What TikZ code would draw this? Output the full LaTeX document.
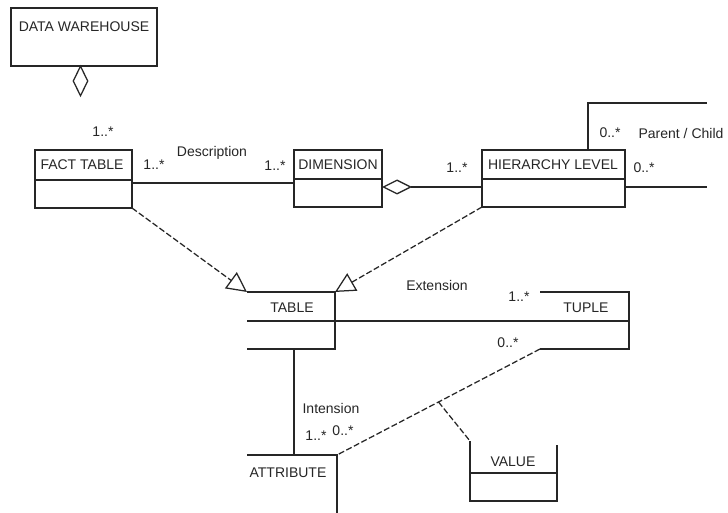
\documentclass[tikz,border=0pt]{standalone}
\usepackage{fontspec}
\setmainfont{Liberation Sans}
\usetikzlibrary{arrows.meta,shapes.geometric,calc}
\definecolor{ink}{HTML}{262626}
\begin{document}
\begin{tikzpicture}[x=1pt,y=-1pt,line width=1.25pt,draw=ink,text=ink,
  box/.style={inner sep=0pt,outer sep=0pt,anchor=north west},
  txt/.style={font=\fontsize{14}{16}\selectfont,inner sep=0pt},
  dashedline/.style={dash pattern=on 6pt off 2.5pt},
  gen/.style={dashedline,-{Triangle[open,length=20pt,width=20pt]}},
  agg/.style={{Diamond[open,length=30pt,width=15pt]}-}]
\useasboundingbox (0,0) rectangle (728,513);
\fill[white] (0,0) rectangle (728,513);
% boxes
\node[box,draw,minimum width=146pt,minimum height=58pt] (dw) at (11,8) {};
\node[box,draw,minimum width=97pt,minimum height=58pt] (fact) at (35,150) {};
\node[box,draw,minimum width=88pt,minimum height=57pt] (dim) at (294,150) {};
\node[box,draw,minimum width=143pt,minimum height=57pt] (hl) at (482,150) {};
\node[box,minimum width=88pt,minimum height=57pt] (table) at (247,292) {};
\node[box,minimum width=89pt,minimum height=57pt] (tuple) at (540,292) {};
\node[box,minimum width=90pt,minimum height=58pt] (attr) at (247,455) {};
\node[box,minimum width=87pt,minimum height=60pt] (value) at (470,441) {};
\node[diamond,draw,aspect=0.5,minimum width=15pt,minimum height=30pt,inner sep=0pt] (dwagg) at (80.5,81) {};
% compartments
\draw ([yshift=-30pt]fact.north west) -- ([yshift=-30pt]fact.north east);
\draw ([yshift=-29pt]dim.north west) -- ([yshift=-29pt]dim.north east);
\draw ([yshift=-29pt]hl.north west) -- ([yshift=-29pt]hl.north east);
\draw (table.north west) -- (table.north east) -- (table.south east) -- (table.south west);
\draw ([yshift=-29pt]table.north west) -- ([yshift=-29pt]table.north east);
\draw (tuple.north west) -- (tuple.north east) -- (tuple.south east) -- (tuple.south west);
\draw ([yshift=-29pt]tuple.north west) -- ([yshift=-29pt]tuple.north east);
\draw (attr.north west) -- (attr.north east) -- (attr.south east);
\draw ([yshift=-4pt]value.north east) -- (value.south east) -- (value.south west) -- (value.north west);
\draw ([yshift=-32pt]value.north west) -- ([yshift=-32pt]value.north east);
% titles
\node[txt] (tdw) at (84,27) {DATA WAREHOUSE};
\node[txt] (tfact) at (82,165) {FACT TABLE};
\node[txt] (tdim) at (338,165) {DIMENSION};
\node[txt] (thl) at (553,165) {HIERARCHY LEVEL};
\node[txt] (ttable) at (292,308) {TABLE};
\node[txt] (ttuple) at (586,308) {TUPLE};
\node[txt] (tattr) at (288,473) {ATTRIBUTE};
\node[txt] (tvalue) at (513,462) {VALUE};
% connectors
\coordinate (hltop) at ([xshift=106pt]hl.north west);
\coordinate (hlA) at (707,103);
\coordinate (hlB) at (707,187);
\draw ([yshift=-33pt]fact.north east) -- ([yshift=-33pt]dim.north west);
\draw[agg] ([yshift=-37pt]dim.north east) -- ([yshift=-37pt]hl.north west);
\draw (hltop) |- (hlA);
\draw ([yshift=-37pt]hl.north east) -- (hlB);
\draw[gen] (fact.south east) -- (table.north west);
\draw[gen] (hl.south west) -- (table.north east);
\draw ([yshift=-29pt]table.north east) -- ([yshift=-29pt]tuple.north west);
\draw ([xshift=47pt]table.south west) -- ([xshift=47pt]attr.north west);
\draw[dashedline] (tuple.south west) -- coordinate[pos=0.5] (mid) (attr.north east);
\draw[dashedline] (mid) -- (value.north west);
% labels
\node[txt] (m1) at (103,132) {1..*};
\node[txt] (m2) at (154,165) {1..*};
\node[txt] (ldesc) at (212,153) {Description};
\node[txt] (m3) at (275,166) {1..*};
\node[txt] (m4) at (457,168) {1..*};
\node[txt] (m5) at (610,133) {0..*};
\node[txt] (lpc) at (681,133) {Parent / Child};
\node[txt] (m6) at (644,168) {0..*};
\node[txt] (lext) at (437,285) {Extension};
\node[txt] (m7) at (519,297) {1..*};
\node[txt] (m8) at (508,343) {0..*};
\node[txt] (lint) at (331,408) {Intension};
\node[txt] (m9) at (316,436) {1..*};
\node[txt] (m10) at (343,431) {0..*};
\end{tikzpicture}
\end{document}
